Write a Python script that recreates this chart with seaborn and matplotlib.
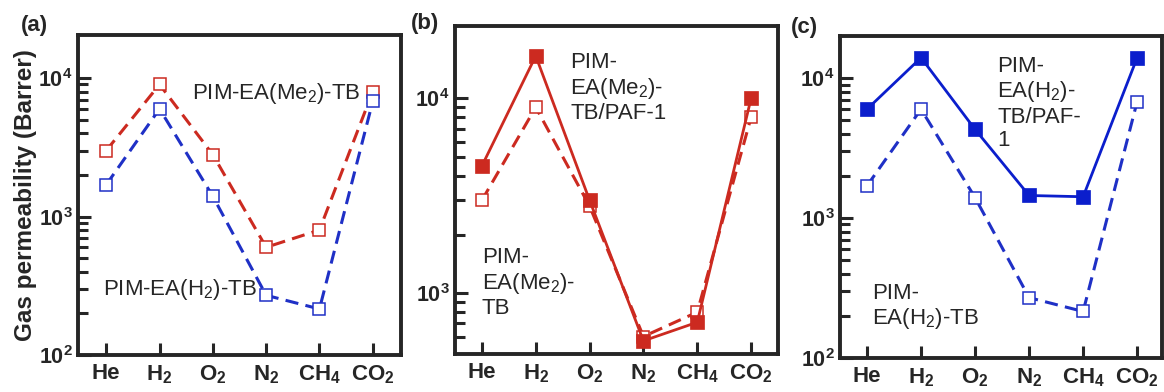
import numpy as np
import pandas as pd
import matplotlib
matplotlib.use("Agg")
import matplotlib.pyplot as plt
import matplotlib.ticker as mticker
import seaborn as sns

# Gas permeabilities (Barrer) for six gases
gases = ["He", "H2", "O2", "N2", "CH4", "CO2"]
gas_labels = ["He", r"H$_\mathbf{2}$", r"O$_\mathbf{2}$", r"N$_\mathbf{2}$",
              r"CH$_\mathbf{4}$", r"CO$_\mathbf{2}$"]

pim_me2_tb = [3000, 9000, 2800, 600, 800, 8000]          # PIM-EA(Me2)-TB
pim_h2_tb = [1700, 6000, 1400, 270, 215, 6800]           # PIM-EA(H2)-TB
pim_me2_paf = [4500, 16500, 3000, 570, 710, 10000]       # PIM-EA(Me2)-TB/PAF-1
pim_h2_paf = [6000, 14000, 4300, 1450, 1420, 14000]      # PIM-EA(H2)-TB/PAF-1

RED = "#cc2a20"
BLUE = "#1f30c6"
BLUE_DARK = "#0b1ecc"

sns.set_style("ticks")
plt.rcParams["font.family"] = ["Liberation Sans", "DejaVu Sans"]
plt.rcParams["mathtext.fontset"] = "custom"
plt.rcParams["mathtext.rm"] = "Liberation Sans"
plt.rcParams["mathtext.bf"] = "Liberation Sans:bold"
plt.rcParams["mathtext.it"] = "Liberation Sans:italic"

W, H = 1164, 392
fig = plt.figure(figsize=(W / 100, H / 100), dpi=100)


def px_axes(left, right, top, bottom):
    return fig.add_axes([left / W, 1 - bottom / H, (right - left) / W, (bottom - top) / H])


def series(ax, values, color, filled):
    df = pd.DataFrame({"gas": gases, "perm": values})
    if filled:
        sns.lineplot(data=df, x="gas", y="perm", ax=ax, sort=False, errorbar=None,
                     color=color, linewidth=2.0, linestyle="-",
                     marker="s", markersize=10.5, markerfacecolor=color,
                     markeredgecolor=color, markeredgewidth=0.5, zorder=4)
    else:
        sns.lineplot(data=df, x="gas", y="perm", ax=ax, sort=False, errorbar=None,
                     color=color, linewidth=2.2, linestyle=(0, (4.3, 2.4)),
                     marker="s", markersize=9.3, markerfacecolor="white",
                     markeredgecolor=color, markeredgewidth=1.1, zorder=3)


def decade_fmt(v, pos):
    e = int(round(np.log10(v)))
    return r"$\mathbf{10^{%d}}$" % e


def style_axes(ax, ylim, xlim):
    ax.set_yscale("log")
    ax.set_ylim(*ylim)
    ax.set_xlim(*xlim)
    ax.set_xticks(range(len(gases)))
    ax.set_xticklabels(gas_labels, fontsize=16, fontweight="bold")
    ax.yaxis.set_major_locator(mticker.LogLocator(base=10, subs=(1.0,)))
    ax.yaxis.set_major_formatter(mticker.FuncFormatter(decade_fmt))
    minors = [m * 10 ** e for e in (2, 3) for m in range(2, 10)
              if ylim[0] * 1.1 < m * 10 ** e < ylim[1]]
    ax.yaxis.set_minor_locator(mticker.FixedLocator(minors))
    ax.yaxis.set_minor_formatter(mticker.NullFormatter())
    ax.tick_params(axis="y", which="major", direction="in", length=9, width=2.2,
                   labelsize=15.5, pad=4)
    ax.tick_params(axis="y", which="minor", direction="in", length=7.5, width=2.2)
    ax.tick_params(axis="x", which="major", direction="in", length=9, width=2.2, pad=6)
    ax.tick_params(axis="x", which="minor", bottom=False)
    for s in ax.spines.values():
        s.set_linewidth(2.8)
        s.set_visible(True)
    ax.set_xlabel("")
    ax.set_ylabel("")


# (a) PIM-EA(Me2)-TB and PIM-EA(H2)-TB
ax_a = px_axes(78, 401, 35, 355)
series(ax_a, pim_me2_tb, RED, False)
series(ax_a, pim_h2_tb, BLUE, False)
style_axes(ax_a, (100, 2.05e4), (-0.53, 5.53))
ax_a.set_ylabel("Gas permeability (Barrer)", fontsize=17.5, fontweight="bold")
ax_a.yaxis.set_label_coords(-0.128, 0.5)
ax_a.text(1.61, 7700, r"PIM-EA(Me$_2$)-TB", fontsize=16, ha="left", va="center")
ax_a.text(-0.06, 295, r"PIM-EA(H$_2$)-TB", fontsize=16, ha="left", va="center")

# (b) PIM-EA(Me2)-TB vs its PAF-1 blend
ax_b = px_axes(455, 778, 26, 354)
series(ax_b, pim_me2_tb, RED, False)
series(ax_b, pim_me2_paf, RED, True)
style_axes(ax_b, (488, 2.35e4), (-0.5, 5.5))
ax_b.text(1.64, 11250, "PIM-\nEA(Me$_2$)-\nTB/PAF-1", fontsize=16, ha="left",
          va="center", linespacing=1.15)
ax_b.text(0.0, 1130, "PIM-\nEA(Me$_2$)-\nTB", fontsize=16, ha="left",
          va="center", linespacing=1.15)

# (c) PIM-EA(H2)-TB vs its PAF-1 blend
ax_c = px_axes(840, 1162, 36, 358)
series(ax_c, pim_h2_tb, BLUE, False)
series(ax_c, pim_h2_paf, BLUE_DARK, True)
style_axes(ax_c, (100, 2.0e4), (-0.5, 5.46))
ax_c.text(2.41, 6600, "PIM-\nEA(H$_2$)-\nTB/PAF-\n1", fontsize=16, ha="left",
          va="center", linespacing=1.15)
ax_c.text(0.09, 232, "PIM-\nEA(H$_2$)-TB", fontsize=16, ha="left",
          va="center", linespacing=1.15)

# panel letters
for label, x, y in (("(a)", 21, 31), ("(b)", 411, 29), ("(c)", 791, 33)):
    fig.text(x / W, 1 - y / H, label, fontsize=16, fontweight="bold",
             ha="left", va="baseline")

fig.savefig("out.png", dpi=100, facecolor="white")
